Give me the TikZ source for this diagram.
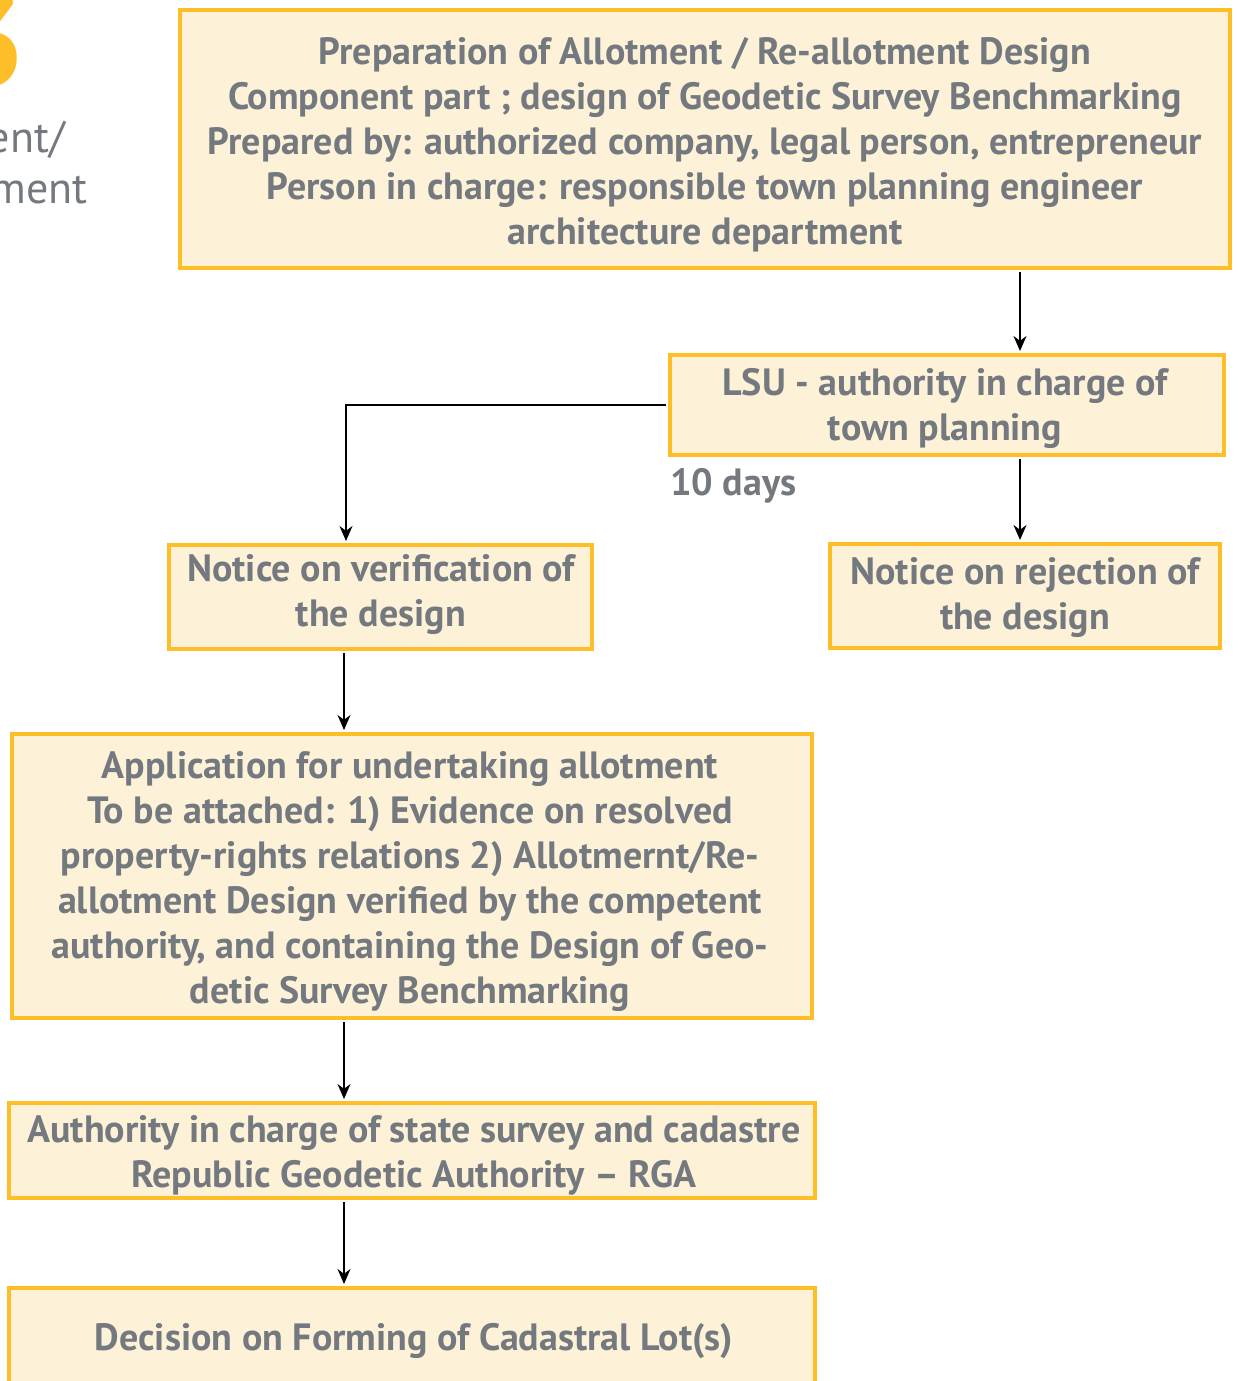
\documentclass[tikz,border=0pt]{standalone}
\usepackage{fontspec}
\setmainfont{PT Sans}
\newfontfamily\boxfont{PT Sans}
\usetikzlibrary{arrows.meta,calc}
\definecolor{boxfill}{RGB}{253,242,215}
\definecolor{boxline}{RGB}{253,190,40}
\definecolor{txt}{RGB}{116,121,128}
\begin{document}
\begin{tikzpicture}[x=1pt,y=-1pt,
  box/.style={draw=boxline,fill=boxfill,line width=4pt,inner sep=0pt},
  btext/.style={align=center,inner sep=0pt,
    font=\boxfont\bfseries\fontsize{38}{45}\selectfont,text=txt},
  arr/.style={line width=2pt,-{Stealth[length=15pt,width=13pt]},shorten >=2pt,shorten <=2pt},
  lbl/.style={inner sep=0pt,font=\boxfont\bfseries\fontsize{38}{45}\selectfont,text=txt}]
\useasboundingbox (0,0) rectangle (1238,1381);
\clip (0,0) rectangle (1238,1381);
\node[anchor=base east,inner sep=0pt,text=boxline,font=\bfseries\fontsize{130}{130}\selectfont] (num) at (26,86) {3};
\node[anchor=base east,inner sep=0pt,text=txt,font=\fontsize{44}{50}\selectfont] (h1) at (65,152) {ent/};
\node[anchor=base east,inner sep=0pt,text=txt,font=\fontsize{44}{50}\selectfont] (h2) at (88,203) {ment};

\node[box,minimum width=1050pt,minimum height=258pt] (top) at (705,139) {};
\node[btext] (topt) at (705,145) {Preparation of Allotment / Re-allotment Design\\Component part ; design of Geodetic Survey Benchmarking\\Prepared by: authorized company, legal person, entrepreneur\\Person in charge: responsible town planning engineer\\architecture department};
\node[box,minimum width=554pt,minimum height=100pt] (lsu) at (947,405) {};
\node[btext] (lsut) at (945,408) {LSU - authority in charge of\\town planning};
\node[lbl,anchor=west] (days) at (670,486) {10 days};
\node[box,minimum width=423pt,minimum height=104pt] (ver) at (380.5,597) {};
\node[btext] (vert) at (381,595) {Notice on verification of\\the design};
\node[box,minimum width=390pt,minimum height=104pt] (rej) at (1025,596) {};
\node[btext] (rejt) at (1025,598) {Notice on rejection of\\the design};
\node[box,minimum width=800pt,minimum height=284pt] (app) at (412,876) {};
\node[btext] (appt) at (410,882) {Application for undertaking allotment\\To be attached: 1) Evidence on resolved\\property-rights relations 2) Allotmernt/Re-\\allotment Design verified by the competent\\authority, and containing the Design of Geo-\\detic Survey Benchmarking};
\node[box,minimum width=806pt,minimum height=95pt] (auth) at (412,1150.5) {};
\node[btext] (autht) at (414,1155) {Authority in charge of state survey and cadastre\\Republic Geodetic Authority – RGA};
\node[box,minimum width=806pt,minimum height=98pt] (dec) at (412,1337) {};
\node[btext] (dect) at (414,1341) {Decision on Forming of Cadastral Lot(s)};

\coordinate (xr) at (1020,0);
\coordinate (xl) at (346,0);
\coordinate (xm) at (344,0);
\draw[arr] (top.south -| xr) -- (lsu.north -| xr);
\draw[arr] (lsu.south -| xr) -- (rej.north -| xr);
\draw[arr] (lsu.west) -| (ver.north -| xl);
\draw[arr] (ver.south -| xm) -- (app.north -| xm);
\draw[arr] (app.south -| xm) -- (auth.north -| xm);
\draw[arr] (auth.south -| xm) -- (dec.north -| xm);
\end{tikzpicture}
\end{document}
